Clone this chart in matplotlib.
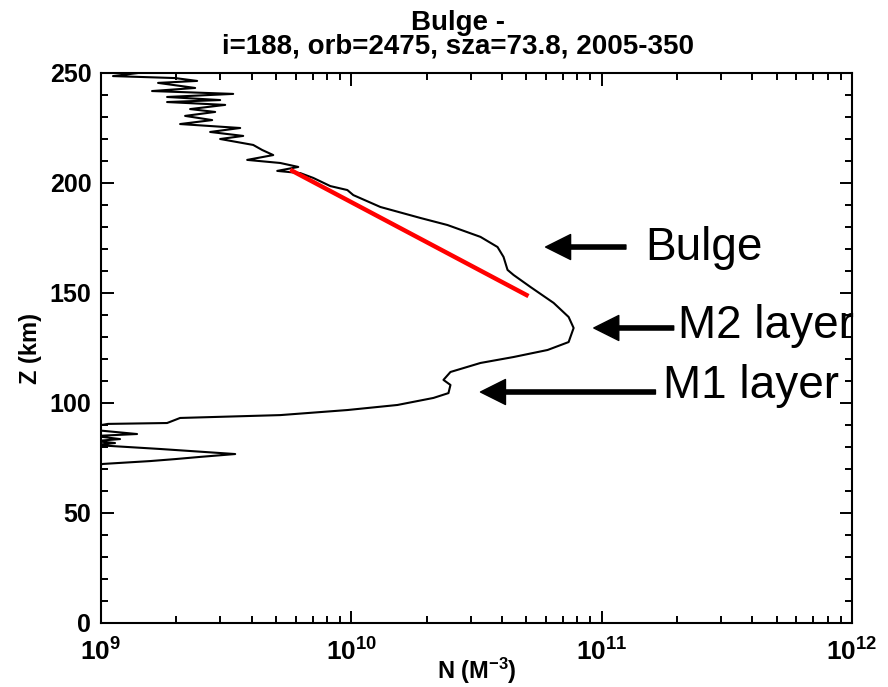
import numpy as np
import matplotlib
matplotlib.use("Agg")
import matplotlib.pyplot as plt
from matplotlib.ticker import FixedLocator, NullFormatter

plt.rcParams['font.family'] = ['Liberation Sans', 'DejaVu Sans']
plt.rcParams['mathtext.fontset'] = 'custom'
plt.rcParams['mathtext.bf'] = 'Liberation Sans:bold'
plt.rcParams['mathtext.rm'] = 'Liberation Sans:bold'
plt.rcParams['mathtext.default'] = 'bf'

# ---- data ----
altitude_km = [250.0, 248.6, 247.7, 246.4, 245.5, 243.2, 241.8, 240.5, 239.1, 237.7,
               236.8, 235.5, 233.6, 232.3, 230.5, 228.6, 226.8, 225.0, 223.2, 221.4,
               220.0, 217.3, 215.0, 212.7, 210.5, 209.1, 207.3, 205.5, 204.5, 202.3,
               198.6, 196.8, 194.5, 189.1, 184.1, 180.9, 175.5, 170.9, 166.4, 160.5,
               158.2, 152.7, 145.5, 139.1, 134.1, 127.7, 124.1, 120.9, 118.2, 114.1,
               110.5, 108.2, 104.5, 102.3, 99.1, 96.8, 94.5, 93.2, 90.9, 90.5,
               89.5, 87.7, 85.9, 85.0, 83.6, 82.7, 81.8, 80.9, 79.1, 76.8,
               75.5, 74.5, 73.6, 72.3, 71.4, 69.5]
log10_density = [9.148, 9.048, 9.296, 9.384, 9.228, 9.376, 9.204, 9.528, 9.264, 9.476,
                 9.264, 9.496, 9.356, 9.456, 9.336, 9.444, 9.316, 9.556, 9.436, 9.568,
                 9.476, 9.608, 9.644, 9.688, 9.584, 9.716, 9.788, 9.704, 9.796, 9.848,
                 9.916, 9.984, 10.008, 10.116, 10.276, 10.384, 10.516, 10.584, 10.608, 10.624,
                 10.648, 10.716, 10.808, 10.868, 10.888, 10.868, 10.784, 10.648, 10.516, 10.396,
                 10.368, 10.396, 10.388, 10.328, 10.184, 9.984, 9.716, 9.316, 9.264, 9.028,
                 8.976, 8.976, 9.144, 8.976, 9.076, 8.976, 9.056, 8.976, 9.236, 9.536,
                 9.396, 9.296, 9.196, 9.008, 8.976, 8.976]

fit_density = [5.7e9, 5.1e10]
fit_altitude = [206.0, 148.6]

x_ticks = [1e9, 1e10, 1e11, 1e12]
x_tick_labels = ['10$^{9}$', '10$^{10}$', '10$^{11}$', '10$^{12}$']
y_ticks = [0, 50, 100, 150, 200, 250]

title_text = 'Bulge -\ni=188, orb=2475, sza=73.8, 2005-350'
x_label = 'N (M$^{-3}$)'
y_label = 'Z (km)'

annotations = [
    # label, arrow tip (N, Z), arrow tail (N, Z), text anchor (N, Z)
    ('Bulge', (5.97e10, 170.9), (1.25e11, 170.9), (1.5e11, 165.0)),
    ('M2 layer', (9.3e10, 134.1), (1.94e11, 134.1), (2.01e11, 129.5)),
    ('M1 layer', (3.28e10, 105.0), (1.64e11, 105.0), (1.75e11, 102.3)),
]

# ---- figure ----
fig = plt.figure(figsize=(8.88, 6.87), dpi=100)
ax = fig.add_axes([101 / 888, 1 - 623 / 687, 751 / 888, 550 / 687])

density = 10 ** np.array(log10_density)
ax.plot(density, altitude_km, color='black', lw=1.5)
ax.plot(fit_density, fit_altitude, color='#ff0000', lw=3.2, solid_capstyle='butt')

ax.set_xscale('log')
ax.set_xlim(1e9, 1e12)
ax.set_ylim(0, 250)

ax.xaxis.set_major_locator(FixedLocator(x_ticks))
ax.set_xticks(x_ticks)
ax.set_xticklabels(x_tick_labels)
minor_x = [m * d for d in [1e9, 1e10, 1e11] for m in range(2, 10)]
ax.xaxis.set_minor_locator(FixedLocator(minor_x))
ax.xaxis.set_minor_formatter(NullFormatter())
ax.set_yticks(y_ticks)
ax.yaxis.set_minor_locator(FixedLocator(list(range(0, 251, 10))))

ax.tick_params(which='both', direction='in', top=True, right=True, width=1.4)
ax.tick_params(which='major', length=9)
ax.tick_params(which='minor', length=5)
ax.tick_params(axis='y', which='major', labelsize=18, pad=7)
ax.tick_params(axis='x', which='major', labelsize=19, pad=11)
for lab in ax.get_yticklabels() + ax.get_xticklabels():
    lab.set_fontweight('bold')
for s in ax.spines.values():
    s.set_linewidth(1.5)

ax.set_xlabel(x_label, fontsize=17, fontweight='bold', va='center')
ax.xaxis.set_label_coords(0.5, -(671 - 623) / 550)
ax.set_ylabel(y_label, fontsize=17, fontweight='bold', va='center')
ax.yaxis.set_label_coords((30 - 101) / 751, 0.5)
fig.text(458 / 888, 1 - 10 / 687, title_text, ha='center', va='top', fontsize=20,
         fontweight='bold', linespacing=0.85)

for label, tip, tail, txt in annotations:
    ax.annotate('', xy=tip, xytext=tail,
                arrowprops=dict(facecolor='black', edgecolor='black', width=3,
                                headwidth=18, headlength=18, shrink=0))
    ax.text(txt[0], txt[1], label, fontsize=33, ha='left', va='baseline',
            clip_on=False)

fig.savefig('out.png', dpi=100)
